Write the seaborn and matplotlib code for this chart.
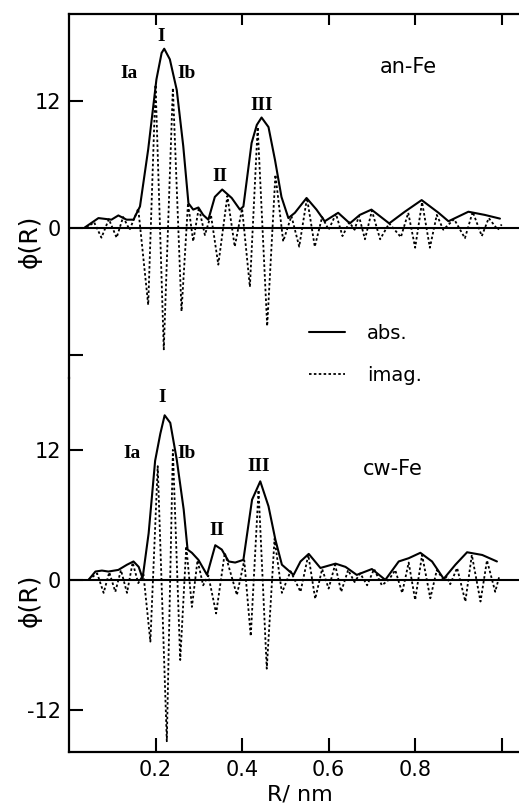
import matplotlib
matplotlib.use('agg')
import matplotlib.pyplot as plt
import seaborn as sns

# --- top panel (an-Fe) ---
an_abs_r = [0.036, 0.068, 0.098, 0.114, 0.133, 0.149, 0.164, 0.183, 0.202, 0.214, 0.220, 0.233,
            0.249, 0.264, 0.276, 0.287, 0.299, 0.310, 0.322, 0.337, 0.354, 0.376, 0.395, 0.403,
            0.422, 0.434, 0.445, 0.461, 0.476, 0.491, 0.507, 0.522, 0.549, 0.572, 0.591, 0.622,
            0.649, 0.672, 0.699, 0.740, 0.776, 0.815, 0.854, 0.877, 0.923, 0.961, 0.996]
an_abs_v = [0.0, 0.9, 0.75, 1.15, 0.75, 0.75, 2.0, 7.4, 14.0, 16.5, 16.9, 15.9,
            13.0, 7.7, 2.3, 1.7, 1.9, 1.2, 0.75, 2.9, 3.6, 2.8, 1.7, 2.0,
            8.0, 9.7, 10.4, 9.5, 6.4, 2.9, 0.9, 1.4, 2.8, 1.7, 0.6, 1.4,
            0.4, 1.2, 1.7, 0.4, 1.5, 2.6, 1.4, 0.6, 1.5, 1.2, 0.85]

an_imag_r = [0.040, 0.058, 0.075, 0.092, 0.110, 0.125, 0.140, 0.160, 0.183, 0.200, 0.219, 0.240,
             0.260, 0.275, 0.287, 0.300, 0.314, 0.328, 0.345, 0.366, 0.383, 0.400, 0.418, 0.436,
             0.458, 0.477, 0.495, 0.514, 0.532, 0.550, 0.568, 0.585, 0.600, 0.617, 0.632, 0.648,
             0.660, 0.670, 0.684, 0.700, 0.719, 0.740, 0.767, 0.784, 0.800, 0.816, 0.834, 0.850,
             0.865, 0.890, 0.915, 0.933, 0.954, 0.970, 0.991, 1.000]
an_imag_v = [0.0, 0.5, -0.95, 0.8, -0.95, 1.0, -0.2, 1.8, -7.3, 13.5, -11.5, 13.2,
             -7.9, 2.3, -1.3, 1.9, -0.7, 1.2, -3.5, 3.0, -1.8, 1.8, -5.6, 9.5,
             -9.3, 5.0, -1.3, 1.1, -1.8, 2.8, -1.8, 1.0, -0.2, 1.3, -0.8, 0.5,
             -0.2, 1.1, -1.1, 1.6, -1.1, 0.4, -0.9, 1.4, -1.9, 2.4, -1.9, 1.2,
             -0.2, 0.8, -1.0, 1.5, -0.8, 0.9, -0.2, 0.3]

# --- bottom panel (cw-Fe) ---
cw_abs_r = [0.045, 0.061, 0.076, 0.091, 0.114, 0.134, 0.149, 0.161, 0.170, 0.184, 0.199, 0.211,
            0.221, 0.234, 0.249, 0.265, 0.274, 0.284, 0.299, 0.319, 0.338, 0.353, 0.369, 0.384,
            0.403, 0.423, 0.442, 0.461, 0.477, 0.492, 0.519, 0.535, 0.554, 0.581, 0.616, 0.639,
            0.665, 0.700, 0.731, 0.762, 0.785, 0.812, 0.839, 0.866, 0.893, 0.920, 0.955, 0.989]
cw_abs_v = [0.0, 0.77, 0.86, 0.77, 0.92, 1.4, 1.7, 1.2, 0.15, 4.3, 11.0, 13.5,
            15.2, 14.5, 11.1, 6.5, 2.8, 2.5, 1.85, 0.46, 3.2, 2.8, 1.7, 1.6,
            1.85, 7.4, 9.1, 6.8, 3.7, 1.4, 0.46, 1.7, 2.4, 1.1, 1.5, 1.2,
            0.46, 1.0, 0.0, 1.7, 2.0, 2.5, 1.7, 0.1, 1.4, 2.55, 2.3, 1.7]

cw_imag_r = [0.045, 0.065, 0.080, 0.093, 0.107, 0.120, 0.134, 0.147, 0.160, 0.172, 0.188, 0.205,
             0.226, 0.240, 0.257, 0.271, 0.284, 0.297, 0.310, 0.322, 0.340, 0.360, 0.388, 0.405,
             0.420, 0.438, 0.457, 0.475, 0.492, 0.512, 0.535, 0.553, 0.569, 0.585, 0.600, 0.615,
             0.629, 0.645, 0.660, 0.673, 0.689, 0.705, 0.723, 0.739, 0.754, 0.770, 0.785, 0.800,
             0.816, 0.835, 0.850, 0.866, 0.873, 0.881, 0.897, 0.916, 0.931, 0.951, 0.966, 0.985, 0.995]
cw_imag_v = [0.0, 0.6, -1.2, 0.7, -1.1, 0.9, -1.2, 1.6, -0.3, 0.5, -5.7, 10.5,
             -14.9, 12.0, -7.4, 3.1, -2.5, 1.8, -0.5, 0.4, -3.1, 2.5, -1.4, 1.8,
             -5.2, 8.3, -8.2, 3.8, -1.2, 0.8, -1.1, 2.3, -1.75, 1.0, -0.8, 1.4,
             -1.1, 0.9, -0.2, 0.6, -0.5, 1.0, -0.5, 0.0, 0.9, -1.2, 1.6, -1.85,
             2.3, -1.7, 0.9, 0.0, 0.3, -0.4, 1.1, -2.0, 2.3, -2.0, 1.8, -1.1, 0.4]

x_ticks = [0.2, 0.4, 0.6, 0.8, 1.0]
x_ticklabels = ['0.2', '0.4', '0.6', '0.8', '']

sns.set_style("ticks")
plt.rcParams['font.family'] = ['DejaVu Sans']
plt.rcParams.update({'text.color': 'black', 'axes.labelcolor': 'black',
                     'xtick.color': 'black', 'ytick.color': 'black',
                     'axes.edgecolor': 'black'})

fig = plt.figure(figsize=(5.19, 8.11), dpi=100)
ax2 = fig.add_axes([0.133, 0.0727, 0.867, 0.4613])
ax1 = fig.add_axes([0.133, 0.534, 0.867, 0.449])
ax1.patch.set_alpha(0)
ax2.patch.set_alpha(0)

dotted = (0, (1.4, 1.3))
lab_font = dict(family='Liberation Serif', fontweight='bold', fontsize=14)


def draw_panel(ax, abs_r, abs_v, imag_r, imag_v):
    sns.lineplot(x=abs_r, y=abs_v, ax=ax, color='black', lw=1.5, estimator=None, label='abs.')
    sns.lineplot(x=imag_r, y=imag_v, ax=ax, color='black', lw=1.3, linestyle=dotted,
                 estimator=None, label='imag.')
    ax.axhline(0, color='black', lw=1.5, zorder=1)
    ax.set_xlim(0, 1.04)
    ax.set_xticks(x_ticks)
    ax.set_yticks([12, 0, -12])
    ax.spines['right'].set_visible(False)
    for s in ax.spines.values():
        s.set_linewidth(1.6)
    ax.tick_params(axis='both', direction='in', length=10, width=1.5, labelsize=15, pad=6)
    ax.set_ylabel('ϕ(R)', fontsize=18)


draw_panel(ax1, an_abs_r, an_abs_v, an_imag_r, an_imag_v)
draw_panel(ax2, cw_abs_r, cw_abs_v, cw_imag_r, cw_imag_v)

# top panel
ax1.set_ylim(-14.2, 20.2)
ax1.spines['bottom'].set_visible(False)
ax1.xaxis.tick_top()
ax1.tick_params(axis='x', length=8, labeltop=False)
ax1.set_yticklabels(['12', '0', ''])
ax1.yaxis.set_label_coords(-0.06, 0.374)
leg = ax1.legend(loc='upper left', bbox_to_anchor=(0.515, 0.17), frameon=False, fontsize=14,
                 handlelength=1.9, handletextpad=1.1, labelspacing=1.2, borderaxespad=0)
leg.set_clip_on(False)

ax1.text(0.214, 18.05, 'I', ha='center', va='center', **lab_font)
ax1.text(0.138, 14.6, 'Ia', ha='center', va='center', **lab_font)
ax1.text(0.272, 14.6, 'Ib', ha='center', va='center', **lab_font)
ax1.text(0.349, 4.85, 'II', ha='center', va='center', **lab_font)
ax1.text(0.445, 11.5, 'III', ha='center', va='center', **lab_font)
ax1.text(0.785, 15.2, 'an-Fe', ha='center', va='center', fontsize=15)

# bottom panel
ax2.set_ylim(-15.9, 18.65)
ax2.spines['top'].set_visible(False)
ax2.set_xticklabels(x_ticklabels)
ax2.set_yticklabels(['12', '0', '-12'])
ax2.yaxis.set_label_coords(-0.06, 0.406)
ax2.set_xlabel('R/ nm', fontsize=16)
ax2.xaxis.set_label_coords(0.513, -0.086)
ax2.get_legend().remove()

ax2.text(0.215, 16.8, 'I', ha='center', va='center', **lab_font)
ax2.text(0.145, 11.7, 'Ia', ha='center', va='center', **lab_font)
ax2.text(0.272, 11.7, 'Ib', ha='center', va='center', **lab_font)
ax2.text(0.342, 4.6, 'II', ha='center', va='center', **lab_font)
ax2.text(0.438, 10.5, 'III', ha='center', va='center', **lab_font)
ax2.text(0.748, 10.2, 'cw-Fe', ha='center', va='center', fontsize=15)

fig.savefig('out.png', dpi=100)
